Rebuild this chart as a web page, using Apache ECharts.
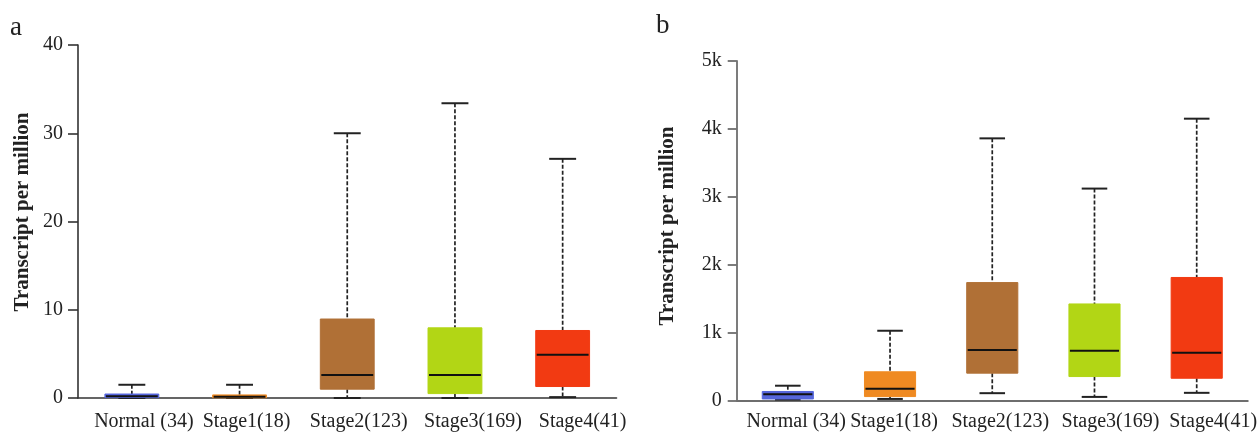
<!DOCTYPE html>
<html>
<head>
<meta charset="utf-8">
<script src="https://cdn.jsdelivr.net/npm/echarts@6/dist/echarts.min.js"></script>
<style>
html,body{margin:0;padding:0;background:#fff;}
#chart{width:1260px;height:432px;}
</style>
</head>
<body>
<div id="chart"></div>
<script>
// ---- data ----
const categories = ['Normal (34)', 'Stage1(18)', 'Stage2(123)', 'Stage3(169)', 'Stage4(41)'];

// panel a (Transcript per million)
const aMin = [0, 0, 0, 0, 0.1];
const aQ1 = [0.05, 0.03, 1.0, 0.5, 1.3];
const aMedian = [0.2, 0.15, 2.6, 2.6, 4.9];
const aQ3 = [0.45, 0.35, 8.95, 7.95, 7.65];
const aMax = [1.5, 1.5, 30, 33.4, 27.1];
const aTickLabels = ['0', '10', '20', '30', '40'];

// panel b
const bMin = [10, 20, 105, 50, 110];
const bQ1 = [20, 55, 400, 350, 325];
const bMedian = [90, 170, 740, 730, 700];
const bQ3 = [130, 420, 1735, 1420, 1810];
const bMax = [215, 1025, 3860, 3120, 4150];
const bTickLabels = ['0', '1k', '2k', '3k', '4k', '5k'];

// ---- styling ----
const palette = ['#5566dc', '#ef8a22', '#b07036', '#b2d615', '#f23a12'];
const FONT = 'Liberation Serif';
// horizontal label shifts (px to the right of the box centre), as in the reference
const aLabelShift = [12, 7, 11.5, 18, 20];
const bLabelShift = [8.5, 4, 8, 16, 16.5];

function rows(mn, q1, md, q3, mx) {
  return categories.map((c, i) => [i, mn[i], q1[i], md[i], q3[i], mx[i]]);
}

function renderBox(params, api) {
  const i = api.value(0);
  const pMin = api.coord([i, api.value(1)]);
  const pQ1 = api.coord([i, api.value(2)]);
  const pMd = api.coord([i, api.value(3)]);
  const pQ3 = api.coord([i, api.value(4)]);
  const pMax = api.coord([i, api.value(5)]);
  const bw = api.size([1, 0])[0] * 0.5;
  const cw = bw * 0.5;
  const x = pMd[0];
  const dash = { stroke: '#222', lineWidth: 1.7, lineDash: [4, 2] };
  const solid = { stroke: '#222', lineWidth: 2 };
  return {
    type: 'group',
    children: [
      { type: 'line', shape: { x1: x, y1: pMax[1], x2: x, y2: pQ3[1] }, style: dash },
      { type: 'line', shape: { x1: x, y1: pQ1[1], x2: x, y2: pMin[1] }, style: dash },
      { type: 'line', shape: { x1: x - cw / 2, y1: pMax[1], x2: x + cw / 2, y2: pMax[1] }, style: solid },
      { type: 'line', shape: { x1: x - cw / 2, y1: pMin[1], x2: x + cw / 2, y2: pMin[1] }, style: solid },
      { type: 'rect', shape: { x: x - bw / 2, y: pQ3[1], width: bw, height: pQ1[1] - pQ3[1] },
        style: { fill: palette[i], stroke: palette[i], lineWidth: 1, opacity: 1 } },
      { type: 'line', shape: { x1: x - bw / 2 + 1, y1: pMd[1], x2: x + bw / 2 - 1, y2: pMd[1] },
        style: { stroke: '#111', lineWidth: 2 } }
    ]
  };
}

function labelRich(shifts) {
  const rich = {};
  shifts.forEach((s, i) => {
    rich['s' + i] = { fontFamily: FONT, fontSize: 20, color: '#222', padding: [0, 0, 0, 2 * s] };
  });
  return rich;
}

function xAxisFor(grid, shifts, margin, lineColor, lineWidth) {
  return {
    gridIndex: grid,
    type: 'category',
    data: categories,
    boundaryGap: true,
    axisTick: { show: false },
    axisLine: { lineStyle: { color: lineColor, width: lineWidth } },
    axisLabel: {
      fontFamily: FONT, fontSize: 20, color: '#222', margin: margin, interval: 0,
      formatter: (v, idx) => '{s' + idx + '|' + v + '}',
      rich: labelRich(shifts)
    },
    splitLine: { show: false }
  };
}

const chart = echarts.init(document.getElementById('chart'), null, { renderer: 'canvas' });
chart.setOption({
  animation: false,
  backgroundColor: '#fff',
  grid: [
    { left: 78, top: 45, width: 538.5, height: 355 },
    { left: 736.7, top: 61, width: 512, height: 339.3 }
  ],
  xAxis: [
    xAxisFor(0, aLabelShift, 14, '#333', 1.6),
    xAxisFor(1, bLabelShift, 11, '#6e6e6e', 1.8)
  ],
  yAxis: [
    {
      gridIndex: 0, type: 'value', min: 0, max: 40, interval: 10,
      splitLine: { show: false },
      axisLine: { show: true, lineStyle: { color: '#333', width: 1.6 } },
      axisTick: { show: true, length: 10, lineStyle: { color: '#333', width: 1.6 } },
      axisLabel: { fontFamily: FONT, fontSize: 20, color: '#222', margin: 15,
        formatter: v => aTickLabels[Math.round(v / 10)] }
    },
    {
      gridIndex: 1, type: 'value', min: 0, max: 5000, interval: 1000,
      splitLine: { show: false },
      axisLine: { show: true, lineStyle: { color: '#6e6e6e', width: 1.8 } },
      axisTick: { show: true, length: 9, lineStyle: { color: '#6e6e6e', width: 1.8 } },
      axisLabel: { fontFamily: FONT, fontSize: 20, color: '#222', margin: 15,
        formatter: v => bTickLabels[Math.round(v / 1000)] }
    }
  ],
  series: [
    { type: 'custom', xAxisIndex: 0, yAxisIndex: 0, renderItem: renderBox,
      encode: { x: 0, y: [1, 2, 3, 4, 5] }, clip: false,
      data: rows(aMin, aQ1, aMedian, aQ3, aMax) },
    { type: 'custom', xAxisIndex: 1, yAxisIndex: 1, renderItem: renderBox,
      encode: { x: 0, y: [1, 2, 3, 4, 5] }, clip: false,
      data: rows(bMin, bQ1, bMedian, bQ3, bMax) }
  ],
  graphic: [
    { type: 'text', left: 10, top: 14, style: { text: 'a', font: '27px "Liberation Serif"', fill: '#222' } },
    { type: 'text', left: 656, top: 12, style: { text: 'b', font: '27px "Liberation Serif"', fill: '#222' } },
    { type: 'text', x: 23, y: 212, rotation: Math.PI / 2,
      style: { text: 'Transcript per million', font: 'bold 21px "Liberation Serif"', fill: '#222',
        align: 'center', verticalAlign: 'middle' } },
    { type: 'text', x: 668, y: 226, rotation: Math.PI / 2,
      style: { text: 'Transcript per million', font: 'bold 21px "Liberation Serif"', fill: '#222',
        align: 'center', verticalAlign: 'middle' } }
  ]
});
</script>
</body>
</html>
